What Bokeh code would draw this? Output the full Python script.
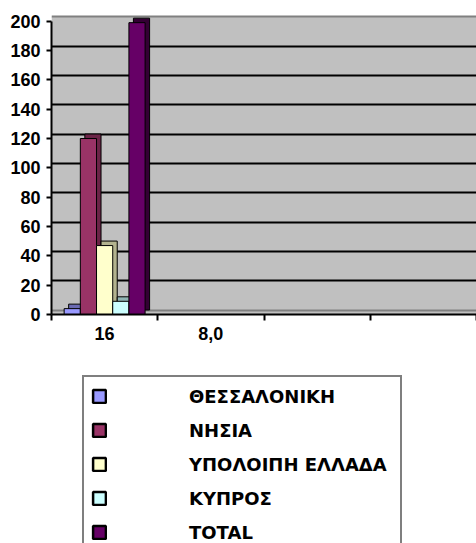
from bokeh.plotting import figure
from bokeh.layouts import column
from bokeh.models import (Range1d, FixedTicker, Grid, Legend, LegendItem,
                          BoxAnnotation)
from bokeh.embed import file_html
from bokeh.resources import INLINE

# ---- data ----
categories = ["16", "8,0", "", ""]
series = ["ΘΕΣΣΑΛΟΝΙΚΗ", "ΝΗΣΙΑ", "ΥΠΟΛΟΙΠΗ ΕΛΛΑΔΑ", "ΚΥΠΡΟΣ", "TOTAL"]
values_16 = [4, 120, 47, 9, 199]
colors = ["#9999FF", "#993366", "#FFFFCC", "#CCFFFF", "#660066"]
side_colors = ["#6B6BB3", "#6B2447", "#B3B38F", "#8FB3B3", "#330033"]
y_ticks = list(range(0, 201, 20))

# ---- layout constants ----
W = 476
H_CHART, H_LEG = 350, 193
frame_w, frame_h = 425, 300
y_max_front = 204.57
n_cat = len(categories)
px_per_x = frame_w / n_cat
px_per_y = frame_h / y_max_front
depth_px = 4.5
dx = depth_px / px_per_x
dy = depth_px / px_per_y
group_frac = 0.762
bw = group_frac / len(series)

FONT = "Liberation Sans"
LEG_FONT = "DejaVu Sans"

p = figure(width=W, height=H_CHART, output_backend="svg", toolbar_location=None,
           x_range=Range1d(0, n_cat), y_range=Range1d(0, y_max_front),
           min_border_left=51, min_border_right=0, min_border_top=14,
           min_border_bottom=H_CHART - 14 - frame_h)
p.extra_y_ranges = {"back": Range1d(-dy, y_max_front - dy)}
p.outline_line_color = None
p.background_fill_color = "white"
p.xgrid.visible = False
p.ygrid.visible = False

# back wall
wall = BoxAnnotation(top=y_ticks[-1], y_range_name="back", fill_color="#C0C0C0",
                     fill_alpha=1, line_color=None, level="underlay")
p.add_layout(wall)
p.add_layout(Grid(dimension=1, ticker=FixedTicker(ticks=y_ticks[1:-1]),
                  y_range_name="back", grid_line_color="black", grid_line_width=2))
p.add_layout(Grid(dimension=1, ticker=FixedTicker(ticks=[y_ticks[0], y_ticks[-1]]),
                  y_range_name="back", grid_line_color="#808080", grid_line_width=2))

# bars (3D look: depth face on the back range, front face on the front range)
cat_x = [i + 0.5 for i in range(n_cat)]
bar_x = [cat_x[0] + (j - (len(series) - 1) / 2) * bw for j in range(len(series))]
for j, v in enumerate(values_16):
    p.vbar(x=[bar_x[j] + dx], width=bw, top=[v], bottom=0, y_range_name="back",
           fill_color=side_colors[j], line_color="black", line_width=1)
    p.vbar(x=[bar_x[j]], width=bw, top=[v], bottom=0,
           fill_color=colors[j], line_color="black", line_width=1)

# axes
yax = p.yaxis[0]
yax.ticker = FixedTicker(ticks=y_ticks)
yax.bounds = (y_ticks[0], y_ticks[-1])
yax.axis_line_width = 2
yax.major_tick_line_width = 2
yax.major_tick_out = 5
yax.major_tick_in = 0
yax.minor_tick_line_color = None
yax.major_label_standoff = 6
yax.major_label_text_font = FONT
yax.major_label_text_font_style = "bold"
yax.major_label_text_font_size = "18px"
yax.major_label_text_color = "black"

xax = p.xaxis[0]
xax.ticker = FixedTicker(ticks=cat_x, minor_ticks=list(range(n_cat + 1)))
xax.major_label_overrides = {cx: c for cx, c in zip(cat_x, categories)}
xax.axis_line_width = 2
xax.major_tick_out = 0
xax.major_tick_in = 0
xax.minor_tick_out = 6
xax.minor_tick_in = 0
xax.minor_tick_line_width = 2
xax.minor_tick_line_color = "black"
xax.major_label_standoff = 6
xax.major_label_text_font = FONT
xax.major_label_text_font_style = "bold"
xax.major_label_text_font_size = "18px"
xax.major_label_text_color = "black"

# ---- legend in its own figure below the chart ----
p2 = figure(width=W, height=H_LEG, output_backend="svg", toolbar_location=None,
            x_range=Range1d(0, n_cat), y_range=Range1d(0, y_max_front),
            x_axis_location=None, y_axis_location=None,
            min_border=0)
p2.outline_line_color = None
p2.xgrid.visible = False
p2.ygrid.visible = False
legend_items = []
for j, name in enumerate(series):
    proxy = p2.vbar(x=[bar_x[j]], width=bw, top=[values_16[j]],
                    fill_color=colors[j], line_color="black", line_width=2.5,
                    visible=False)
    legend_items.append(LegendItem(label=name, renderers=[proxy]))

legend = Legend(items=legend_items, location=(31, -10),
                glyph_width=16, glyph_height=16, label_standoff=82,
                label_width=204, label_height=24, spacing=10, padding=7,
                margin=0, border_line_color="black", border_line_width=2.5,
                background_fill_color="white", background_fill_alpha=1,
                label_text_font=LEG_FONT, label_text_font_style="bold",
                label_text_font_size="18px", label_text_color="black")
p2.add_layout(legend)

layout = column(p, p2, spacing=0)
open("out.html", "w").write(file_html(layout, INLINE))
